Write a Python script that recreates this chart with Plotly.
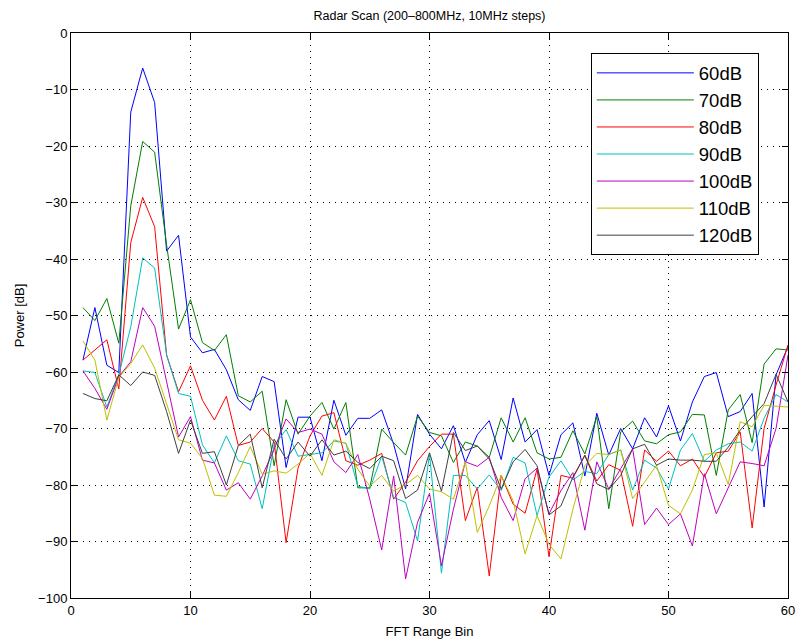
import plotly.graph_objects as go

bins = list(range(1, 61))

p60 = [-57.9, -48.6, -58.8, -60.1, -14.0, -6.2, -12.3, -38.6, -35.8, -53.8,
       -56.6, -56.0, -59.6, -64.9, -66.8, -60.8, -61.7, -76.9, -68.0, -68.0,
       -75.7, -65.0, -71.2, -68.2, -68.2, -66.7, -72.8, -80.7, -67.5, -71.0,
       -73.6, -69.5, -76.0, -71.1, -68.6, -75.5, -64.6, -72.4, -70.2, -78.3,
       -71.1, -69.0, -78.4, -67.3, -74.7, -70.0, -73.6, -68.1, -71.5, -66.0,
       -72.2, -65.3, -60.8, -60.1, -67.9, -67.0, -63.8, -83.9, -60.5, -55.5]
p70 = [-48.6, -50.9, -47.0, -54.9, -30.6, -19.2, -21.1, -37.5, -52.4, -47.2,
       -54.8, -56.2, -53.4, -64.2, -65.3, -63.4, -76.6, -64.9, -71.0, -67.8,
       -65.4, -70.1, -65.4, -80.5, -80.5, -70.1, -72.5, -74.7, -67.8, -70.7,
       -71.3, -76.0, -72.4, -73.1, -75.1, -68.1, -72.4, -68.1, -74.3, -75.4,
       -75.1, -70.4, -74.5, -67.9, -84.2, -70.6, -68.7, -72.2, -72.7, -71.1,
       -70.6, -67.5, -67.6, -78.3, -66.7, -64.0, -72.5, -58.6, -55.9, -56.1]
p80 = [-57.9, -56.1, -54.3, -63.0, -37.1, -29.1, -34.3, -57.0, -63.5, -58.9,
       -65.0, -68.5, -64.3, -73.0, -72.4, -70.0, -72.4, -90.2, -77.0, -71.3,
       -67.8, -67.2, -75.7, -76.5, -75.6, -74.4, -82.5, -79.5, -75.7, -73.2,
       -71.0, -71.0, -86.3, -80.4, -96.1, -78.3, -83.4, -85.0, -77.2, -92.7,
       -78.3, -78.8, -74.7, -79.3, -76.4, -77.4, -87.3, -73.8, -75.8, -74.0,
       -76.6, -75.4, -78.6, -74.3, -74.0, -70.6, -87.6, -70.0, -62.3, -55.2]
p90 = [-59.8, -60.1, -66.2, -60.5, -52.0, -39.8, -41.6, -57.0, -63.8, -64.3,
       -72.9, -76.1, -71.3, -75.7, -76.3, -84.2, -73.0, -70.2, -74.9, -74.6,
       -74.3, -72.2, -72.6, -80.2, -80.7, -74.9, -82.2, -83.1, -89.9, -74.6,
       -95.6, -78.3, -78.3, -80.7, -78.2, -81.0, -75.1, -76.1, -85.4, -78.6,
       -75.7, -79.1, -77.6, -78.0, -74.6, -73.8, -80.9, -75.6, -77.0, -80.7,
       -73.8, -70.9, -75.8, -73.8, -72.7, -72.4, -74.0, -68.2, -64.0, -65.3]
p100 = [-59.8, -62.9, -66.6, -60.8, -58.2, -48.6, -51.9, -62.0, -71.5, -67.9,
        -75.6, -76.1, -80.9, -79.6, -82.5, -78.4, -73.7, -68.3, -70.7, -70.1,
        -71.0, -75.9, -77.8, -74.6, -82.5, -91.5, -78.4, -96.6, -86.6, -81.5,
        -94.3, -84.3, -75.9, -76.7, -75.1, -82.2, -86.3, -78.9, -77.0, -85.1,
        -81.0, -77.8, -88.0, -75.9, -80.7, -77.1, -73.6, -87.0, -84.1, -87.0,
        -85.1, -90.8, -78.0, -85.1, -80.4, -75.9, -76.2, -76.6, -70.0, -57.0]
p110 = [-54.5, -57.9, -68.5, -61.0, -58.5, -55.2, -59.3, -65.5, -72.0, -72.6,
        -75.3, -81.8, -82.0, -77.8, -73.2, -78.1, -77.5, -77.9, -76.3, -74.4,
        -78.3, -72.0, -72.6, -77.2, -80.2, -78.3, -81.1, -79.9, -78.3, -80.7,
        -81.2, -82.5, -75.9, -88.4, -83.7, -78.3, -82.8, -92.2, -85.4, -90.5,
        -93.1, -84.3, -76.6, -74.4, -74.6, -73.8, -82.4, -79.5, -76.5, -83.6,
        -85.1, -80.9, -74.6, -74.3, -79.9, -68.8, -69.7, -65.9, -66.0, -66.2]
p120 = [-63.8, -64.7, -65.1, -60.5, -62.4, -60.0, -60.6, -67.0, -74.4, -68.5,
        -74.4, -74.1, -80.0, -73.0, -71.0, -80.5, -71.9, -75.4, -72.4, -74.9,
        -72.0, -74.7, -74.0, -76.0, -77.1, -74.9, -75.7, -82.4, -80.9, -74.3,
        -81.1, -70.7, -73.9, -73.1, -75.4, -80.7, -75.9, -73.7, -76.6, -85.3,
        -83.7, -78.6, -74.8, -79.8, -80.8, -78.3, -73.6, -72.8, -76.5, -75.4,
        -75.6, -75.6, -75.8, -75.8, -73.3, -70.3, -67.9, -65.6, -60.4, -65.3]

series_names = ["60dB", "70dB", "80dB", "90dB", "100dB", "110dB", "120dB"]
series_values = [p60, p70, p80, p90, p100, p110, p120]
series_colors = ["#0000ff", "#008000", "#ff0000", "#00bfbf",
                 "#bf00bf", "#bfbf00", "#404040"]

x_ticks = [0, 10, 20, 30, 40, 50, 60]
y_ticks = [0, -10, -20, -30, -40, -50, -60, -70, -80, -90, -100]

FONT = "Liberation Sans, Arial, Helvetica"

fig = go.Figure()
for name, vals, col in zip(series_names, series_values, series_colors):
    fig.add_trace(go.Scatter(x=bins, y=vals, mode="lines", name=name,
                             line=dict(color=col, width=1)))

axis_common = dict(
    showline=True, linecolor="black", linewidth=1, mirror="allticks",
    ticks="inside", ticklen=6, tickcolor="black", tickwidth=1,
    showgrid=True, gridcolor="black", gridwidth=1, griddash="1px,5px",
    zeroline=False, automargin=False,
    tickfont=dict(family=FONT, size=13, color="black"),
)

fig.update_xaxes(range=[0, 60], tickvals=x_ticks,
                 title=dict(text="FFT Range Bin", standoff=12,
                            font=dict(family=FONT, size=13, color="black")),
                 **axis_common)
fig.update_yaxes(range=[-100, 0], tickvals=y_ticks,
                 title=dict(text="Power [dB]", standoff=10,
                            font=dict(family=FONT, size=13, color="black")),
                 **axis_common)

fig.update_layout(
    width=797, height=639,
    margin=dict(l=71, r=9, t=33, b=41, autoexpand=False),
    paper_bgcolor="white", plot_bgcolor="white",
    font=dict(family=FONT, color="black"),
    title=dict(text="Radar Scan (200\u2013800MHz, 10MHz steps)",
               x=(71 + 788) / 2 / 797, xanchor="center",
               y=1 - 16 / 639, yanchor="middle", yref="container",
               font=dict(family=FONT, size=12.5, color="black")),
    legend=dict(x=0.725, y=0.964, xanchor="left", yanchor="top",
                bgcolor="white", bordercolor="black", borderwidth=1,
                font=dict(family=FONT, size=18.5, color="black"),
                itemwidth=97, tracegroupgap=0),
    showlegend=True,
)

fig.write_html("out.html",
               config={"displayModeBar": False},
               post_script="document.body.style.margin='0px';"
                           "document.body.style.overflow='hidden';")
